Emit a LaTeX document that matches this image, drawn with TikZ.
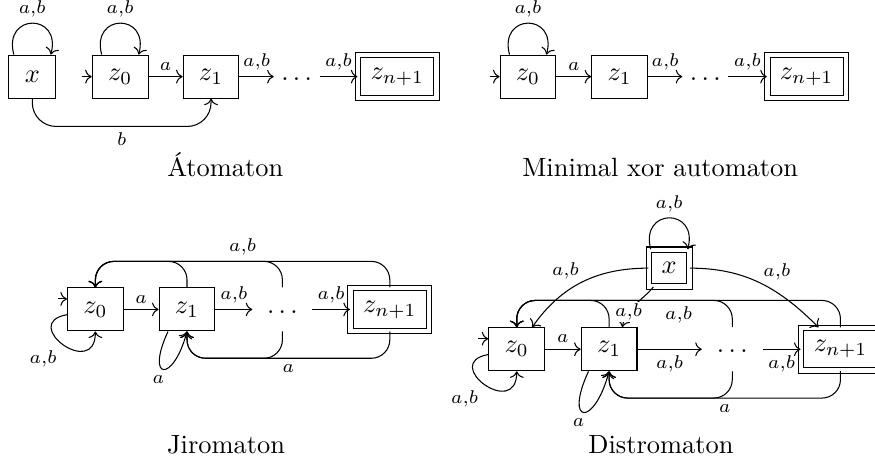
\documentclass[tikz,border=0pt]{standalone}
\usepackage{amsmath}
\usepackage{tikz}
\usetikzlibrary{positioning,arrows.meta,calc}
\tikzset{
    state/.style={draw, rectangle, inner xsep=6pt, inner ysep=4pt, minimum height=16.3pt},
    accept/.style={draw, rectangle, double, double distance=1.7pt, inner sep=4.8pt},
    dotnode/.style={inner sep=0pt, minimum height=16.3pt, text height=4.3pt, text depth=1.5pt},
    lbl/.style={font=\scriptsize, inner sep=2.2pt},
    loopup/.style={out=105, in=75, looseness=3},
    back/.style={->, rounded corners=7pt}
}

\begin{document}
\begin{tikzpicture}
  \useasboundingbox (0,0) rectangle (11.65,6.14);

  % Atomaton
  \node[state] (x1) at (0.43,5.12) {$x$};
  \node[state] (z01) at (1.60,5.12) {$z_0$};
  \node[state] (z11) at (2.81,5.12) {$z_1$};
  \node[dotnode, minimum width=17pt] (d1) at (3.95,5.12) {$\ldots$};
  \node[accept] (zn1) at (5.29,5.12) {$z_{n+1}$};
  \coordinate (i1) at (1.09,5.12);

  \draw[->] ([xshift=-7pt]x1.north) to[loopup] node[lbl, above] {$a{,}b$} ([xshift=7pt]x1.north);
  \draw[->] ([xshift=-7pt]z01.north) to[loopup] node[lbl, above] {$a{,}b$} ([xshift=7pt]z01.north);
  \draw[->] (i1) -- (z01);
  \draw[->] (z01) -- node[lbl, above] {$a$} (z11);
  \draw[->] (z11) -- node[lbl, above] {$a{,}b$} (d1);
  \draw[->] (d1) -- node[lbl, above] {$a{,}b$} (zn1);
  \draw[->, rounded corners=9pt] (x1.south) -- ++(0,-0.37) -| node[lbl, pos=0.25, below] {$b$} (z11.south);
  \node[anchor=base] (c1) at (3.00,3.79) {Átomaton};

  % Minimal xor automaton
  \node[state] (z02) at (7.03,5.12) {$z_0$};
  \node[state] (z12) at (8.25,5.12) {$z_1$};
  \node[dotnode, minimum width=17pt] (d2) at (9.39,5.12) {$\ldots$};
  \node[accept] (zn2) at (10.74,5.12) {$z_{n+1}$};
  \coordinate (i2) at (6.52,5.12);

  \draw[->] ([xshift=-7pt]z02.north) to[loopup] node[lbl, above] {$a{,}b$} ([xshift=7pt]z02.north);
  \draw[->] (i2) -- (z02);
  \draw[->] (z02) -- node[lbl, above] {$a$} (z12);
  \draw[->] (z12) -- node[lbl, above] {$a{,}b$} (d2);
  \draw[->] (d2) -- node[lbl, above] {$a{,}b$} (zn2);
  \node[anchor=base] (c2) at (8.79,3.79) {Minimal xor automaton};

  % Jiromaton
  \node[state] (z03) at (1.27,2.02) {$z_0$};
  \node[state] (z13) at (2.49,2.02) {$z_1$};
  \node[dotnode, minimum width=22.4pt] (d3) at (3.76,2.02) {$\ldots$};
  \node[accept] (zn3) at (5.19,2.02) {$z_{n+1}$};
  \coordinate (i3) at (0.77,2.16);
  \coordinate (top3) at (1.27,2.66);
  \coordinate (bot3) at (2.49,1.37);

  \draw[->] (i3) -- (i3 -| z03.west);
  \draw[->] ([yshift=-2pt]z03.west) to[out=190, in=-90, looseness=3.8] node[lbl, below left] {$a{,}b$} (z03.south);
  \draw[->] ([xshift=-7.2pt]z13.south) to[out=-115, in=-105, looseness=7.3] node[lbl, below, xshift=-2pt] {$a$} (z13.south);
  \draw[->] (z03) -- node[lbl, above] {$a$} (z13);
  \draw[->] (z13) -- node[lbl, above] {$a{,}b$} (d3);
  \draw[->] (d3) -- node[lbl, above] {$a{,}b$} (zn3);
  \draw[back] (z13.north) |- (top3) -- (z03.north);
  \draw[back] (d3.north) |- (top3) -- (z03.north);
  \draw[back] (zn3.north) |- node[lbl, pos=0.75, above] {$a{,}b$} (top3) -- (z03.north);
  \draw[back] (d3.south) |- (bot3) -- (z13.south);
  \draw[back] (zn3.south) |- node[lbl, pos=0.75, below] {$a$} (bot3) -- (z13.south);
  \node[anchor=base] (c3) at (3.01,0.10) {Jiromaton};

  % Distromaton
  \node[state] (z04) at (6.88,1.49) {$z_0$};
  \node[state] (z14) at (8.11,1.49) {$z_1$};
  \node[dotnode, minimum width=22.7pt] (d4) at (9.75,1.49) {$\ldots$};
  \node[accept] (zn4) at (11.19,1.49) {$z_{n+1}$};
  \node[accept] (x4) at (8.91,2.57) {$x$};
  \coordinate (i4) at (6.37,1.63);
  \coordinate (top4) at (6.88,2.14);
  \coordinate (bot4) at (8.11,0.84);

  \draw[->] ([xshift=-7pt]x4.north) to[loopup] node[lbl, above] {$a{,}b$} ([xshift=7pt]x4.north);
  \draw[->] (x4) to[out=180, in=55] node[lbl, above left, inner sep=1pt] {$a{,}b$} (z04);
  \draw[->] (x4) to[out=0, in=135] node[lbl, above right, inner sep=1pt] {$a{,}b$} (zn4);
  \draw[->] (i4) -- (i4 -| z04.west);
  \draw[->] ([yshift=-2pt]z04.west) to[out=190, in=-90, looseness=3.8] node[lbl, below left] {$a{,}b$} (z04.south);
  \draw[->] ([xshift=-7.8pt]z14.south) to[out=-115, in=-105, looseness=7.3] node[lbl, below, xshift=-2pt] {$a$} (z14.south);
  \draw[->] (z04) -- node[lbl, above] {$a$} (z14);
  \draw[->] (z14) -- node[lbl, below] {$a{,}b$} (d4);
  \draw[->] (d4) -- node[lbl, below] {$a{,}b$} (zn4);
  \draw[back] (z14.north) |- (top4) -- (z04.north);
  \draw[back] (d4.north) |- (top4) -- (z04.north);
  \draw[back] (zn4.north) |- node[lbl, pos=0.75, below] {$a{,}b$} (top4) -- (z04.north);
  \draw[back] (d4.south) |- (bot4) -- (z14.south);
  \draw[back] (zn4.south) |- node[lbl, pos=0.75, below] {$a$} (bot4) -- (z14.south);
  \draw[->] (x4) to[out=-130, in=80] node[lbl, pos=0.68, fill=white, inner sep=0.5pt] {$a{,}b$} ([xshift=5pt]z14.north);
  \node[anchor=base] (c4) at (8.80,0.10) {Distromaton};
\end{tikzpicture}
\end{document}
